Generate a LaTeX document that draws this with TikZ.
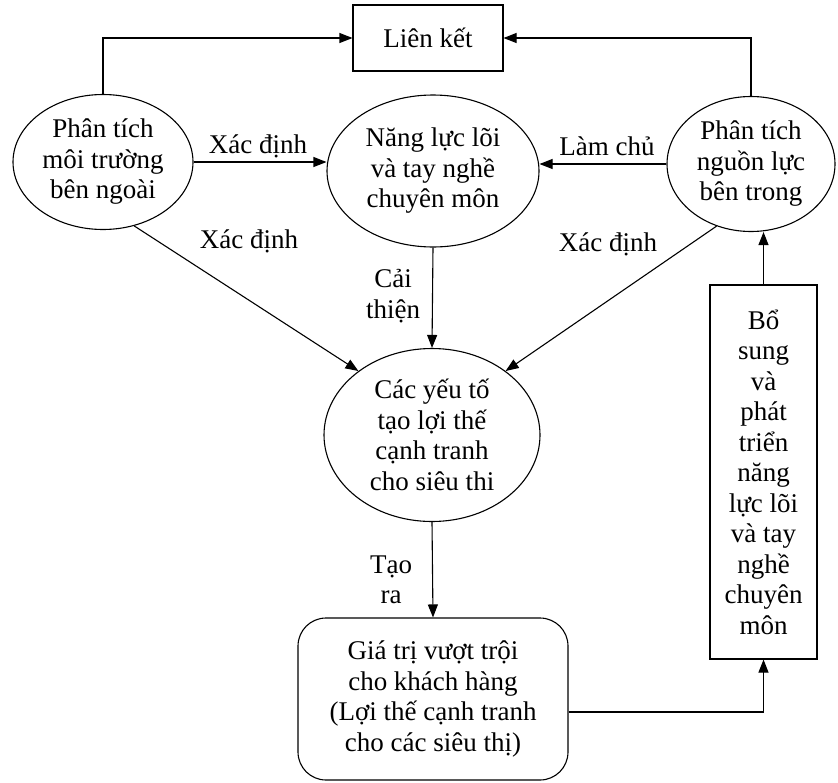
\documentclass[tikz,border=0pt]{standalone}
\usepackage{fontspec}
\setmainfont{Liberation Serif}
\usepackage{tikz}
\usetikzlibrary{shapes.geometric,arrows.meta,positioning}
\lineskiplimit=-30pt

\begin{document}
\begin{tikzpicture}[x=1pt, y=-1pt,
  every node/.style={font=\fontsize{27}{30.5}\selectfont, align=center, inner sep=0pt},
  bubble/.style={draw, ellipse, line width=1.1pt},
  plainbox/.style={draw, rectangle, line width=1.1pt},
  roundbox/.style={draw, rectangle, rounded corners=28pt, line width=1.1pt},
  link/.style={line width=1.1pt, -{Triangle[length=13pt,width=10pt]}},
]
  \useasboundingbox (0,0) rectangle (838,782);

  % Top box
  \node[plainbox, minimum width=150pt, minimum height=66pt] (lnk) at (428,38) {Liên kết};

  % Analyses and core skills
  \node[bubble, minimum width=180pt, minimum height=135pt] (ext) at (103,162) {Phân tích\\môi trường\\bên ngoài};
  \node[bubble, minimum width=212pt, minimum height=152pt] (core) at (433,171) {Năng lực lõi\\và tay nghề\\chuyên môn};
  \node[bubble, minimum width=168pt, minimum height=135pt] (res) at (751,164) {Phân tích\\nguồn lực\\bên trong};

  % Advantage factors and value
  \node[bubble, minimum width=216pt, minimum height=173pt] (adv) at (432,435) {Các yếu tố\\tạo lợi thế\\cạnh tranh\\cho siêu thi};
  \node[roundbox, minimum width=270pt, minimum height=162pt] (val) at (433,699) {Giá trị vượt trội\\cho khách hàng\\(Lợi thế cạnh tranh\\cho các siêu thị)};

  % Feedback box
  \node[plainbox, minimum width=107pt, minimum height=374pt] (grow) at (763.5,472) {Bổ\\sung\\và\\phát\\triển\\năng\\lực lõi\\và tay\\nghề\\chuyên\\môn};

  % Connections to top box
  \draw[link] (ext.north) |- (lnk.west);
  \draw[link] (res.north) |- (lnk.east);

  % Connections to core skills
  \draw[link] (ext.east) -- (ext.east -| core.west);
  \draw[link] (res.west) -- (res.west -| core.east);

  % Connections to advantage factors
  \draw[link] (ext.-64) -- (adv.139);
  \draw[link] (res.-119) -- (adv.41);
  \draw[link] (core.south) -- (adv.north);

  % Value and feedback
  \draw[link] (adv.south) -- (val.north);
  \draw[link] ([yshift=-13pt]val.east) -| (grow.south);
  \draw[link] (grow.north) -- (grow.north |- res.south);

  % Connector labels
  \node[anchor=base] (l1) at (258,153) {Xác định};
  \node[anchor=base] (l2) at (607,155) {Làm chủ};
  \node[anchor=base] (l3) at (249,248) {Xác định};
  \node[anchor=base] (l4) at (608,251) {Xác định};
  \node (l5) at (393,296) {Cải\\thiện};
  \node (l6) at (391,580) {Tạo\\ra};

\end{tikzpicture}
\end{document}
